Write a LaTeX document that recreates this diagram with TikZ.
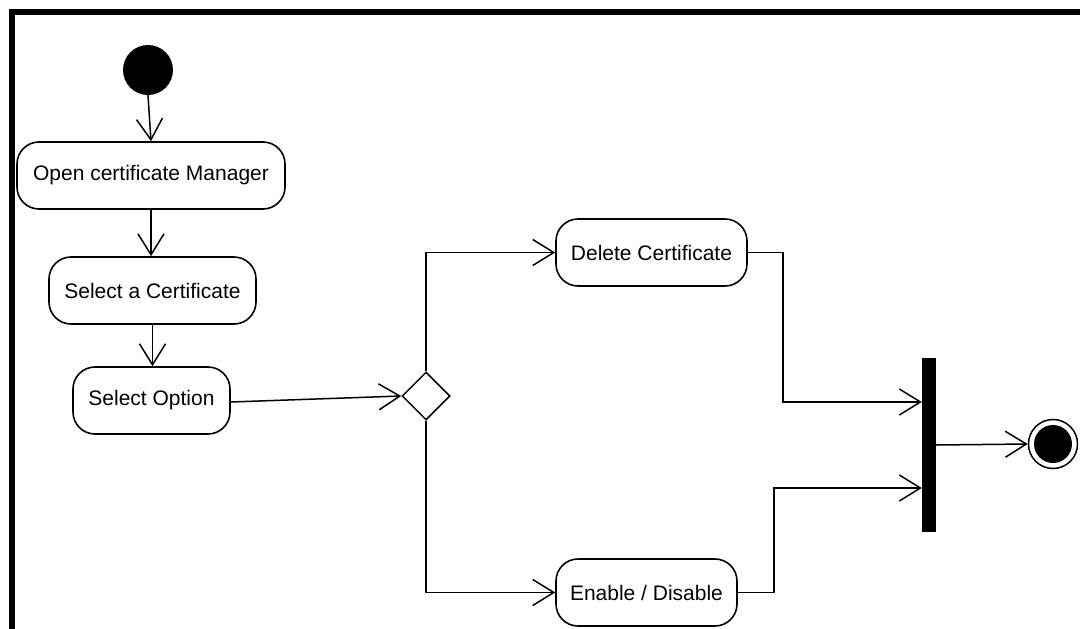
\documentclass[tikz,border=0pt]{standalone}
\usepackage{fontspec}
\setmainfont{Liberation Sans}
\usetikzlibrary{arrows.meta,shapes.geometric,calc}
\begin{document}
\begin{tikzpicture}[x=1pt,y=-1pt,
  every node/.style={font=\fontsize{21}{25}\selectfont, inner sep=0pt},
  activity/.style={draw, line width=1.6pt, rounded corners=22pt, minimum height=67pt},
  flow/.style={line width=1.5pt, -{Straight Barb[length=21pt,width=26pt,line width=1.5pt]}},
  plain/.style={line width=1.5pt}]
  \useasboundingbox (0,0) rectangle (1080,629);
  % frame along the top and left
  \draw[line width=6pt] (12,629) -- (12,12) -- (1080,12);

  % start and activities
  \node[circle, fill=black, minimum size=50pt] (init) at (148,70) {};
  \node[activity, minimum width=268pt] (open) at (151,175.5) {Open certificate Manager};
  \node[activity, minimum width=207pt] (selcert) at (152.5,290.5) {Select a Certificate};
  \node[activity, minimum width=157pt] (selopt) at (151.5,400.5) {Select Option};
  \node[diamond, draw, line width=1.5pt, aspect=1, minimum width=48pt, minimum height=48pt] (dec) at (426,396) {};
  \node[activity, minimum width=191pt] (del) at (651.5,252.5) {Delete Certificate};
  \node[activity, minimum width=181pt] (enab) at (646.5,592.5) {Enable / Disable};

  % join bar and final state
  \node[rectangle, fill=black, minimum width=14pt, minimum height=174pt] (bar) at (929,445) {};
  \node[circle, draw, line width=1.5pt, minimum size=49pt] (final) at (1053,444) {};
  \fill (final.center) circle (19);

  % connectors
  \draw[flow] (init.south) -- (open.north);
  \draw[flow] (open.south) -- (open.south |- selcert.north);
  \draw[flow] (selcert.south) -- (selcert.south |- selopt.north);
  \draw[flow] ([yshift=-1.5pt]selopt.east) -- (dec.west);
  \draw[flow] (dec.north) |- (del.west);
  \draw[flow] (dec.south) |- (enab.west);
  \draw[flow] (del.east) -- ++(35,0) |- ([yshift=43pt]bar.west);
  \draw[flow] (enab.east) -- ++(36,0) |- ([yshift=-43pt]bar.west);
  \draw[flow] (bar.east) -- (final.west);
\end{tikzpicture}
\end{document}
